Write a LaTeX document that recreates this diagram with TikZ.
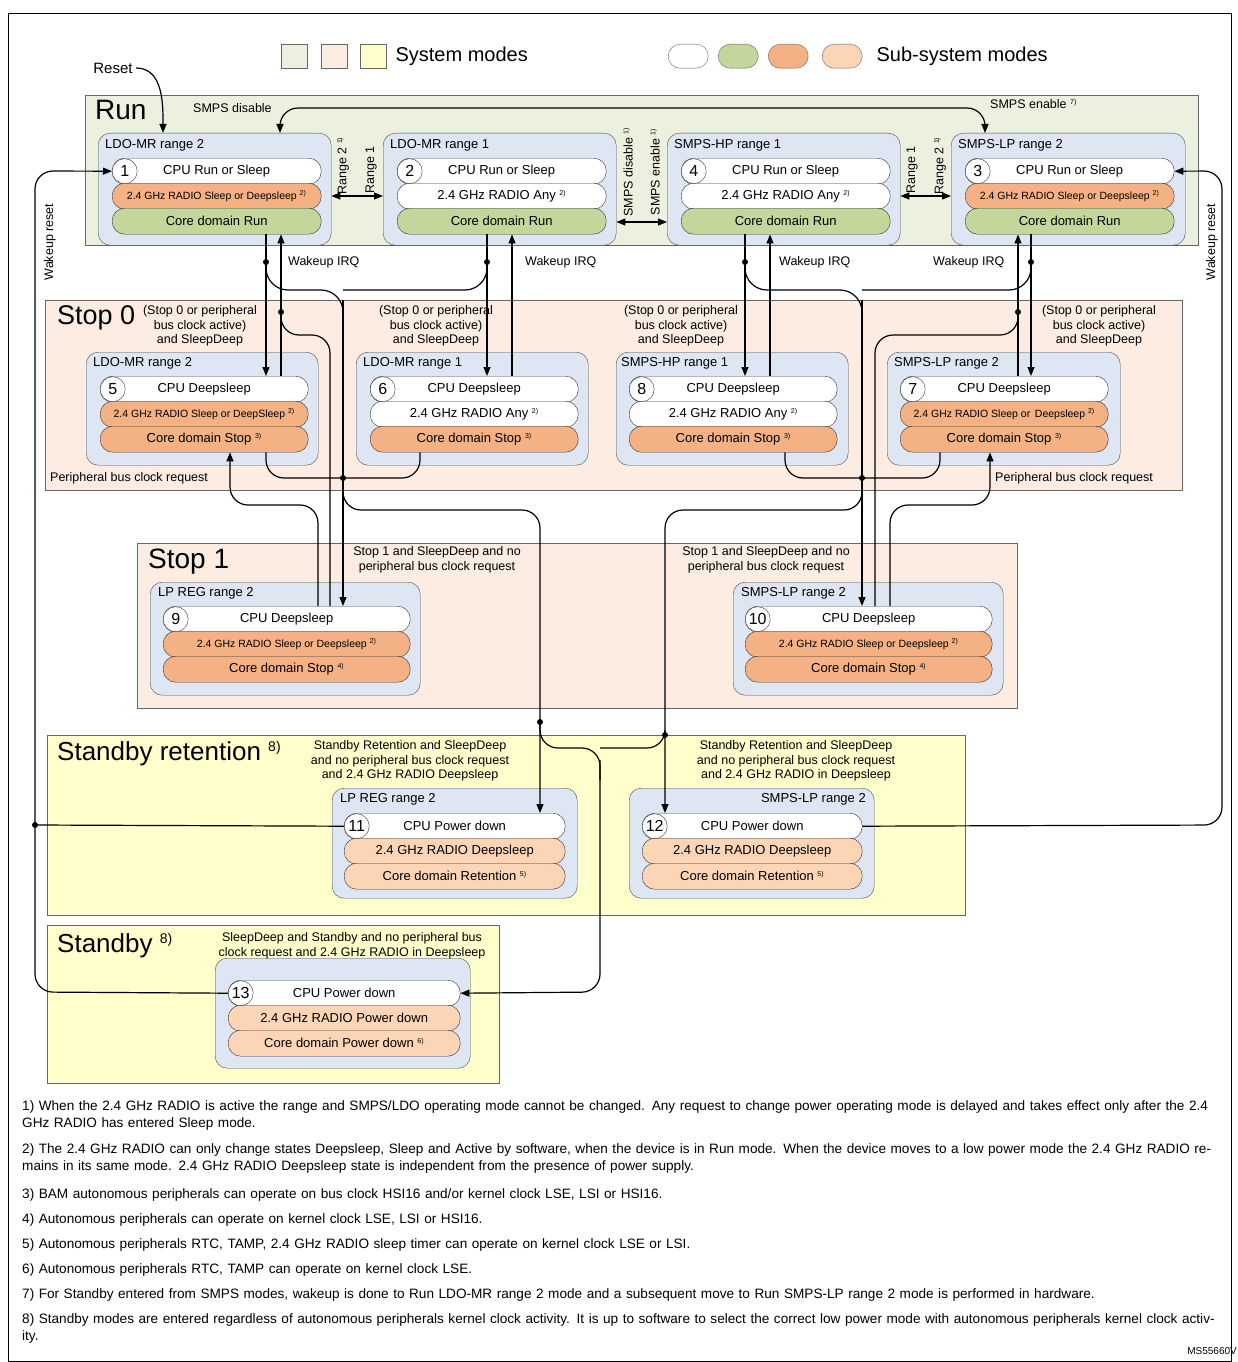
\documentclass[tikz,border=0pt]{standalone}
\usepackage{fontspec}
\setmainfont{Liberation Sans}
\usetikzlibrary{positioning,arrows.meta}

\definecolor{runbg}{RGB}{235,241,222}
\definecolor{stopbg}{RGB}{252,236,226}
\definecolor{stbybg}{RGB}{255,255,204}
\definecolor{boxbg}{RGB}{221,230,242}
\definecolor{greenpill}{RGB}{195,214,155}
\definecolor{orangepill}{RGB}{244,177,131}
\definecolor{lightpill}{RGB}{251,213,181}

\tikzset{
  sysmode/.style={draw=black!60,anchor=north west,inner sep=0},
  modebox/.style={draw=black!70,fill=boxbg,rounded corners=12,anchor=north west,inner sep=0,minimum height=112},
  pill/.style={draw=black!80,rounded corners=12.5,anchor=north west,inner sep=0,minimum height=26,font=\fontsize{13}{14}\selectfont},
  numc/.style={circle,draw=black!80,fill=white,inner sep=0,minimum size=25,anchor=west,font=\fontsize{16}{16}\selectfont},
  boxtitle/.style={anchor=north west,inner sep=0,font=\fontsize{13}{14}\selectfont},
  lbl/.style={inner sep=0,font=\fontsize{12.5}{14.5}\selectfont,align=center},
  big/.style={anchor=north west,inner sep=0,font=\fontsize{28}{30}\selectfont},
  wire/.style={line width=1.2pt,rounded corners=18},
  arr/.style={wire,-{Triangle[length=9pt,width=7pt]}},
  darr/.style={wire,{Triangle[length=9pt,width=7pt]}-{Triangle[length=9pt,width=7pt]}},
  jdot/.style={circle,fill=black,inner sep=0,minimum size=6},
  fn/.style={anchor=north west,inner sep=0,text width=1200,align=left,font=\fontsize{13.6}{17}\selectfont},
}
\newcommand{\sups}[1]{\textsuperscript{\fontsize{7}{7}\selectfont #1)}}
% three rows of a sub-system block
\newcommand{\pillrows}[9]{%
  \node[pill,fill=white,minimum width=#4] (#1a) at (#2,#3) {#5};
  \node[pill,fill=#6,minimum width=#4] (#1b) at (#2,#3+25) {#7};
  \node[pill,fill=#8,minimum width=#4] (#1c) at (#2,#3+50) {#9};
}

\begin{document}
\begin{tikzpicture}[x=1pt,y=-1pt]
\useasboundingbox (0,0) rectangle (1237,1362);
\draw[line width=1pt] (8,14) rectangle (1231,1361);

% legend
\node[sysmode,fill=runbg,minimum width=26,minimum height=24] (lg1) at (281,44) {};
\node[sysmode,fill=stopbg,minimum width=26,minimum height=24] (lg2) at (321,44) {};
\node[sysmode,fill=stbybg,minimum width=26,minimum height=24] (lg3) at (360,44) {};
\node[anchor=west,font=\fontsize{20}{20}\selectfont] (lgs) at (392,56) {System modes};
\node[sysmode,rounded corners=12,fill=white,minimum width=40,minimum height=24] (lg4) at (668,44) {};
\node[sysmode,rounded corners=12,fill=greenpill,minimum width=40,minimum height=24] (lg5) at (718,44) {};
\node[sysmode,rounded corners=12,fill=orangepill,minimum width=40,minimum height=24] (lg6) at (768,44) {};
\node[sysmode,rounded corners=12,fill=lightpill,minimum width=40,minimum height=24] (lg7) at (822,44) {};
\node[anchor=west,font=\fontsize{20}{20}\selectfont] (lgb) at (873,56) {Sub-system modes};

% system mode areas
\node[sysmode,fill=runbg,minimum width=1113,minimum height=150] (run) at (85,95) {};
\node[sysmode,fill=stopbg,minimum width=1137,minimum height=190] (stop0) at (45,300) {};
\node[sysmode,fill=stopbg,minimum width=880,minimum height=165] (stop1) at (137,543) {};
\node[sysmode,fill=stbybg,minimum width=918,minimum height=180] (sret) at (47,735) {};
\node[sysmode,fill=stbybg,minimum width=452,minimum height=158] (stby) at (47,925) {};
\node[big] (runl) at (95,100) {Run};
\node[big,font=\fontsize{27}{30}\selectfont] (stop0l) at (57,305) {Stop 0};
\node[big] (stop1l) at (148,549) {Stop 1};
\node[big,font=\fontsize{26}{28}\selectfont] (sretl) at (57,741) {Standby retention \textsuperscript{\fontsize{14}{14}\selectfont 8)}};
\node[big,font=\fontsize{26}{28}\selectfont] (stbyl) at (57,933) {Standby \textsuperscript{\fontsize{14}{14}\selectfont 8)}};

% Run
\node[modebox,minimum width=233] (r1) at (98,133) {};
\node[boxtitle] (r1t) at (105,139) {LDO-MR range 2};
\pillrows{r1}{112}{158}{209}{CPU Run or Sleep}{orangepill}{\fontsize{10.5}{12}\selectfont 2.4 GHz RADIO Sleep or Deepsleep \sups{2}}{greenpill}{Core domain Run}
\node[numc] (r1n) at (r1a.west) {1};
\node[modebox,minimum width=233] (r2) at (383,133) {};
\node[boxtitle] (r2t) at (390,139) {LDO-MR range 1};
\pillrows{r2}{397}{158}{209}{CPU Run or Sleep}{white}{2.4 GHz RADIO Any \sups{2}}{greenpill}{Core domain Run}
\node[numc] (r2n) at (r2a.west) {2};
\node[modebox,minimum width=233] (r4) at (667,133) {};
\node[boxtitle] (r4t) at (674,139) {SMPS-HP range 1};
\pillrows{r4}{681}{158}{209}{CPU Run or Sleep}{white}{2.4 GHz RADIO Any \sups{2}}{greenpill}{Core domain Run}
\node[numc] (r4n) at (r4a.west) {4};
\node[modebox,minimum width=234] (r3) at (951,133) {};
\node[boxtitle] (r3t) at (958,139) {SMPS-LP range 2};
\pillrows{r3}{965}{158}{209}{CPU Run or Sleep}{orangepill}{\fontsize{10.5}{12}\selectfont 2.4 GHz RADIO Sleep or Deepsleep \sups{2}}{greenpill}{Core domain Run}
\node[numc] (r3n) at (r3a.west) {3};

% Stop 0
\node[modebox,minimum width=232,minimum height=113] (s5) at (86,352) {};
\node[boxtitle] (s5t) at (93,357) {LDO-MR range 2};
\pillrows{s5}{100}{376}{208}{CPU Deepsleep}{orangepill}{\fontsize{10.5}{12}\selectfont 2.4 GHz RADIO Sleep or DeepSleep \sups{2}}{orangepill}{Core domain Stop \sups{3}}
\node[numc] (s5n) at (s5a.west) {5};
\node[modebox,minimum width=232,minimum height=113] (s6) at (356,352) {};
\node[boxtitle] (s6t) at (363,357) {LDO-MR range 1};
\pillrows{s6}{370}{376}{208}{CPU Deepsleep}{white}{2.4 GHz RADIO Any \sups{2}}{orangepill}{Core domain Stop \sups{3}}
\node[numc] (s6n) at (s6a.west) {6};
\node[modebox,minimum width=232,minimum height=113] (s8) at (616,352) {};
\node[boxtitle] (s8t) at (621,357) {SMPS-HP range 1};
\pillrows{s8}{629}{376}{208}{CPU Deepsleep}{white}{2.4 GHz RADIO Any \sups{2}}{orangepill}{Core domain Stop \sups{3}}
\node[numc] (s8n) at (s8a.west) {8};
\node[modebox,minimum width=233,minimum height=113] (s7) at (887,352) {};
\node[boxtitle] (s7t) at (894,357) {SMPS-LP range 2};
\pillrows{s7}{900}{376}{208}{CPU Deepsleep}{orangepill}{\fontsize{10.5}{12}\selectfont 2.4 GHz RADIO Sleep or\, Deepsleep \sups{2}}{orangepill}{Core domain Stop \sups{3}}
\node[numc] (s7n) at (s7a.west) {7};

% Stop 1
\node[modebox,minimum width=270,minimum height=113] (t9) at (150,582) {};
\node[boxtitle] (t9t) at (158,587) {LP REG range 2};
\pillrows{t9}{163}{606}{247}{CPU Deepsleep}{orangepill}{\fontsize{10.5}{12}\selectfont 2.4 GHz RADIO Sleep or Deepsleep \sups{2}}{orangepill}{Core domain Stop \sups{4}}
\node[numc] (t9n) at (t9a.west) {9};
\node[modebox,minimum width=270,minimum height=113] (t10) at (733,582) {};
\node[boxtitle] (t10t) at (741,587) {SMPS-LP range 2};
\pillrows{t10}{745}{606}{247}{CPU Deepsleep}{orangepill}{\fontsize{10.5}{12}\selectfont 2.4 GHz RADIO Sleep or Deepsleep \sups{2}}{orangepill}{Core domain Stop \sups{4}}
\node[numc] (t10n) at (t10a.west) {10};

% Standby retention
\node[modebox,minimum width=245,minimum height=110] (sr11) at (332,788) {};
\node[boxtitle] (sr11t) at (340,793) {LP REG range 2};
\pillrows{sr11}{344}{813}{221}{CPU Power down}{lightpill}{2.4 GHz RADIO Deepsleep}{lightpill}{Core domain Retention \sups{5}}
\node[numc] (sr11n) at (sr11a.west) {11};
\node[modebox,minimum width=245,minimum height=110] (sr12) at (629,788) {};
\node[boxtitle,anchor=north east] (sr12t) at (866,793) {SMPS-LP range 2};
\pillrows{sr12}{642}{813}{220}{CPU Power down}{lightpill}{2.4 GHz RADIO Deepsleep}{lightpill}{Core domain Retention \sups{5}}
\node[numc] (sr12n) at (sr12a.west) {12};

% Standby
\node[modebox,minimum width=255,minimum height=110] (sb13) at (215,958) {};
\pillrows{sb13}{228}{980}{232}{CPU Power down}{lightpill}{2.4 GHz RADIO Power down}{lightpill}{Core domain Power down \sups{6}}
\node[numc] (sb13n) at (sb13a.west) {13};

% labels
\node[font=\fontsize{15}{16}\selectfont] (reset) at (113,68) {Reset};
\node[lbl,anchor=west] (smpsd) at (193,108) {SMPS disable};
\node[lbl,anchor=west] (smpse) at (990,104) {SMPS enable \sups{7}};
\node[lbl,rotate=90] (rg2a) at (343,166) {Range 2 \sups{1}};
\node[lbl,rotate=90] (rg1a) at (371,170) {Range 1};
\node[lbl,rotate=90] (smd) at (628,172) {SMPS disable \sups{1}};
\node[lbl,rotate=90] (sme) at (655,172) {SMPS enable \sups{1}};
\node[lbl,rotate=90] (rg1b) at (912,170) {Range 1};
\node[lbl,rotate=90] (rg2b) at (940,166) {Range 2 \sups{1}};
\node[lbl,rotate=90] (wrl) at (50,242) {Wakeup reset};
\node[lbl,rotate=90] (wrr) at (1212,242) {Wakeup reset};
\node[lbl,anchor=west] (irq1) at (288,262) {Wakeup IRQ};
\node[lbl,anchor=west] (irq2) at (525,262) {Wakeup IRQ};
\node[lbl,anchor=west] (irq3) at (779,262) {Wakeup IRQ};
\node[lbl,anchor=west] (irq4) at (933,262) {Wakeup IRQ};
\node[lbl] (c5) at (200,326) {(Stop 0 or peripheral\\bus clock active)\\and SleepDeep};
\node[lbl] (c6) at (436,326) {(Stop 0 or peripheral\\bus clock active)\\and SleepDeep};
\node[lbl] (c8) at (681,326) {(Stop 0 or peripheral\\bus clock active)\\and SleepDeep};
\node[lbl] (c7) at (1099,326) {(Stop 0 or peripheral\\bus clock active)\\and SleepDeep};
\node[lbl,anchor=west] (pb1) at (50,478) {Peripheral bus clock request};
\node[lbl,anchor=west] (pb2) at (995,478) {Peripheral bus clock request};
\node[lbl] (c9) at (437,560) {Stop 1 and SleepDeep and no\\peripheral bus clock request};
\node[lbl] (c10) at (766,560) {Stop 1 and SleepDeep and no\\peripheral bus clock request};
\node[lbl] (c11) at (410,761) {Standby Retention and SleepDeep\\and no peripheral bus clock request\\and 2.4 GHz RADIO Deepsleep};
\node[lbl] (c12) at (796,761) {Standby Retention and SleepDeep\\and no peripheral bus clock request\\and 2.4 GHz RADIO in Deepsleep};
\node[lbl] (c13) at (352,946) {SleepDeep and Standby and no peripheral bus\\clock request and 2.4 GHz RADIO in Deepsleep};

% junctions
\node[jdot] (j1) at (266,262) {};
\node[jdot] (j2) at (487,262) {};
\node[jdot] (j3) at (745,262) {};
\node[jdot] (j4) at (1031,262) {};
\node[jdot] (j5) at (281,312) {};
\node[jdot] (j6) at (1018,312) {};
\node[jdot] (j7) at (343,478) {};
\node[jdot] (j8) at (862,478) {};
\node[jdot] (j9) at (540,722) {};
\node[jdot] (j10) at (665,735) {};
\node[jdot] (j11) at (35,825) {};

% Run <-> Run
\draw[arr] (reset.east) to[out=0,in=90] (163,0 |- r1.north);
\draw[darr] (280,0 |- r1.north) -- (280,108) -- (985,108) -- (985,0 |- r3.north);
\draw[darr,rounded corners=0] (r1.east |- 0,196) -- (r2.west |- 0,196);
\draw[darr,rounded corners=0] (r2.east |- 0,222) -- (r4.west |- 0,222);
\draw[darr,rounded corners=0] (r4.east |- 0,196) -- (r3.west |- 0,196);

% Run -> Stop 0 and back
\draw[arr] (266,0 |- r1c.south) -- (266,0 |- s5a.north);
\draw[arr] (281,0 |- s5a.north) -- (281,0 |- r1c.south);
\draw[arr] (487,0 |- r2c.south) -- (487,0 |- s6a.north);
\draw[arr] (512,0 |- s6a.north) -- (512,0 |- r2c.south);
\draw[arr] (745,0 |- r4c.south) -- (745,0 |- s8a.north);
\draw[arr] (770,0 |- s8a.north) -- (770,0 |- r4c.south);
\draw[arr] (1031,0 |- r3c.south) -- (1031,0 |- s7a.north);
\draw[arr] (1018,0 |- s7a.north) -- (1018,0 |- r3c.south);

% Run / Stop 0 -> Stop 1
\draw[wire,rounded corners=22] (j1.center) -- (266,290) -- (343,290) -- (343,320);
\draw[wire,rounded corners=22] (j2.center) -- (487,290) -- (343,290);
\draw[arr] (343,300) -- (343,0 |- t9a.north);
\draw[wire] (266,0 |- s5c.south) -- (266,478) -- (j7.center);
\draw[wire] (420,0 |- s6c.south) -- (420,478) -- (j7.center);
\draw[wire,rounded corners=22] (j3.center) -- (745,290) -- (862,290) -- (862,320);
\draw[wire,rounded corners=22] (j4.center) -- (1031,290) -- (862,290);
\draw[arr] (862,300) -- (862,0 |- t10a.north);
\draw[wire] (785,0 |- s8c.south) -- (785,478) -- (j8.center);
\draw[wire] (940,0 |- s7c.south) -- (940,478) -- (j8.center);

% Stop 1 -> Stop 0 / Run
\draw[wire] (330,0 |- t9a.north) -- (330,335) -- (281,335) -- (j5.center);
\draw[wire] (875,0 |- t10a.north) -- (875,335) -- (1018,335) -- (j6.center);
\draw[arr] (318,0 |- t9a.north) -- (318,505) -- (230,505) -- (230,0 |- s5c.south);
\draw[arr] (890,0 |- t10a.north) -- (890,505) -- (990,505) -- (990,0 |- s7c.south);

% -> Standby retention / Standby
\draw[arr] (j7.center) -- (343,510) -- (540,510) -- (540,0 |- sr11a.north);
\draw[arr] (j8.center) -- (862,510) -- (665,510) -- (665,0 |- sr12a.north);
\draw[wire] (j9.center) -- (540,748) -- (600,748) -- (600,780);
\draw[wire] (j10.center) -- (665,748) -- (600,748);
\draw[arr] (600,760) -- (600,992) -- (sb13a.east);

% wakeup reset
\draw[arr] (sb13a.west) -- (35,992) -- (35,171) -- (r1a.west);
\draw[wire] (sr11a.west) -- (j11.center);
\draw[arr] (sr12a.east) -- (1222,825) -- (1222,171) -- (r3a.east);

% notes
\node[fn] (n1) at (22,1100) {1) When the 2.4 GHz RADIO is active the range and SMPS/LDO operating mode cannot be changed. Any request to change power operating mode is delayed and takes effect only after the 2.4 GHz RADIO has entered Sleep mode.};
\node[fn] (n2) at (22,1143) {2) The 2.4 GHz RADIO can only change states Deepsleep, Sleep and Active by software, when the device is in Run mode. When the device moves to a low power mode the 2.4 GHz RADIO remains in its same mode. 2.4 GHz RADIO Deepsleep state is independent from the presence of power supply.};
\node[fn] (n3) at (22,1188) {3) BAM autonomous peripherals can operate on bus clock HSI16 and/or kernel clock LSE, LSI or HSI16.};
\node[fn] (n4) at (22,1213) {4) Autonomous peripherals can operate on kernel clock LSE, LSI or HSI16.};
\node[fn] (n5) at (22,1238) {5) Autonomous peripherals RTC, TAMP, 2.4 GHz RADIO sleep timer can operate on kernel clock LSE or LSI.};
\node[fn] (n6) at (22,1263) {6) Autonomous peripherals RTC, TAMP can operate on kernel clock LSE.};
\node[fn] (n7) at (22,1288) {7) For Standby entered from SMPS modes, wakeup is done to Run LDO-MR range 2 mode and a subsequent move to Run SMPS-LP range 2 mode is performed in hardware.};
\node[fn] (n8) at (22,1313) {8) Standby modes are entered regardless of autonomous peripherals kernel clock activity. It is up to software to select the correct low power mode with autonomous peripherals kernel clock activity.};
\node[anchor=east,inner sep=0,font=\fontsize{10}{10}\selectfont] (ms) at (1237,1351) {MS55660V};
\end{tikzpicture}
\end{document}
